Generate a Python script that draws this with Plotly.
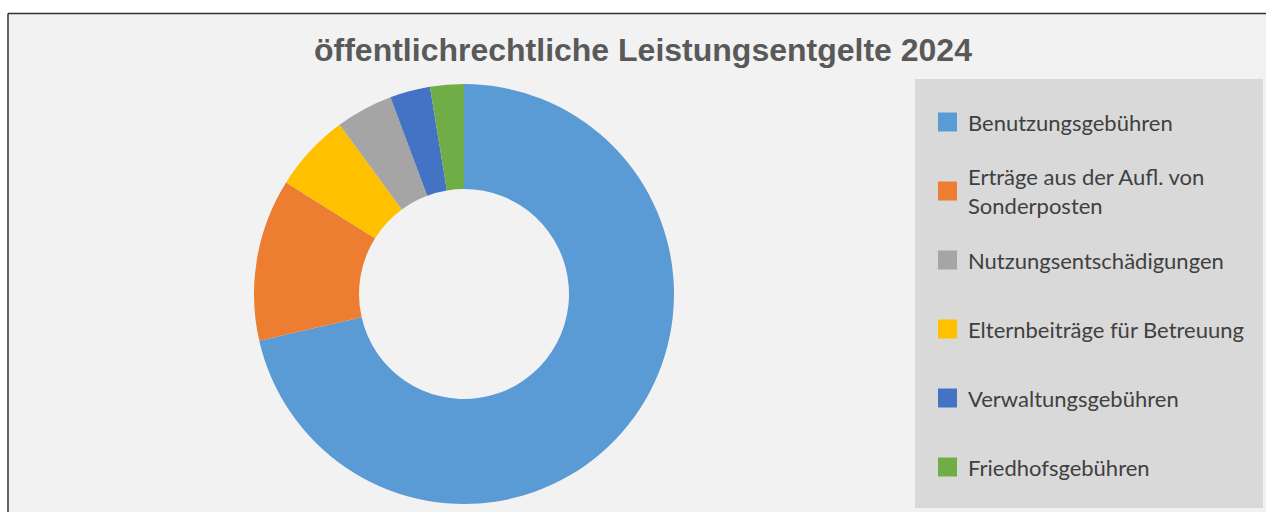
import textwrap
import plotly.graph_objects as go

W, H = 1266, 512

# ---- data (share of total, %) ----
slice_labels = [
    "Benutzungsgebühren",
    "Erträge aus der Aufl. von Sonderposten",
    "Elternbeiträge für Betreuung",
    "Nutzungsentschädigungen",
    "Verwaltungsgebühren",
    "Friedhofsgebühren",
]
slice_values = [71.5, 12.5, 6.0, 4.4, 3.1, 2.6]
slice_colors = ["#5B9BD5", "#ED7D31", "#FFC000", "#A5A5A5", "#4472C4", "#70AD47"]

legend_order = [
    "Benutzungsgebühren",
    "Erträge aus der Aufl. von Sonderposten",
    "Nutzungsentschädigungen",
    "Elternbeiträge für Betreuung",
    "Verwaltungsgebühren",
    "Friedhofsgebühren",
]
title_text = "öffentlichrechtliche Leistungsentgelte 2024"


def px(x):
    return x / W


def py(y):
    return 1 - y / H


fig = go.Figure(
    go.Pie(
        labels=slice_labels,
        values=slice_values,
        marker=dict(colors=slice_colors, line=dict(width=0)),
        hole=0.5,
        sort=False,
        direction="clockwise",
        rotation=0,
        textinfo="none",
        hoverinfo="label+percent",
        showlegend=False,
        domain=dict(x=[px(254), px(674)], y=[py(504), py(84)]),
    )
)

shapes = [
    # chart area background
    dict(type="rect", xref="paper", yref="paper", x0=px(9), x1=px(W), y0=py(H), y1=py(14),
         fillcolor="#F2F2F2", line=dict(width=0), layer="below"),
    # border lines top / left
    dict(type="line", xref="paper", yref="paper", x0=px(8), x1=px(W), y0=py(13.5), y1=py(13.5),
         line=dict(color="#333333", width=1.5), layer="below"),
    dict(type="line", xref="paper", yref="paper", x0=px(8), x1=px(8), y0=py(13.5), y1=py(H),
         line=dict(color="#333333", width=1.5), layer="below"),
    # legend box
    dict(type="rect", xref="paper", yref="paper", x0=px(915), x1=px(1263), y0=py(508), y1=py(79),
         fillcolor="#D9D9D9", line=dict(width=0), layer="below"),
]

annotations = [
    dict(text=f"<b>{title_text}</b>", xref="paper", yref="paper", x=px(642.5), y=py(50),
         xanchor="center", yanchor="middle", showarrow=False,
         font=dict(family="Liberation Sans, Arial", size=32, color="#595959")),
]

color_of = dict(zip(slice_labels, slice_colors))
item_top, item_step = 122, 69
for i, lab in enumerate(legend_order):
    cy = item_top + i * item_step
    shapes.append(dict(type="rect", xref="paper", yref="paper",
                       x0=px(938), x1=px(957), y0=py(cy + 9.5), y1=py(cy - 9.5),
                       fillcolor=color_of[lab], line=dict(width=0)))
    annotations.append(dict(text="<br>".join(textwrap.wrap(lab, 28)), xref="paper", yref="paper",
                            x=px(966), y=py(cy), xanchor="left", yanchor="middle", align="left",
                            showarrow=False,
                            font=dict(family="Lato", size=22, color="#404040")))

fig.update_layout(
    width=W, height=H,
    margin=dict(l=0, r=0, t=0, b=0),
    paper_bgcolor="#FFFFFF",
    plot_bgcolor="#FFFFFF",
    shapes=shapes,
    annotations=annotations,
)

fig.write_html("out.html", config={"displayModeBar": False},
               post_script="document.body.style.margin='0';")
